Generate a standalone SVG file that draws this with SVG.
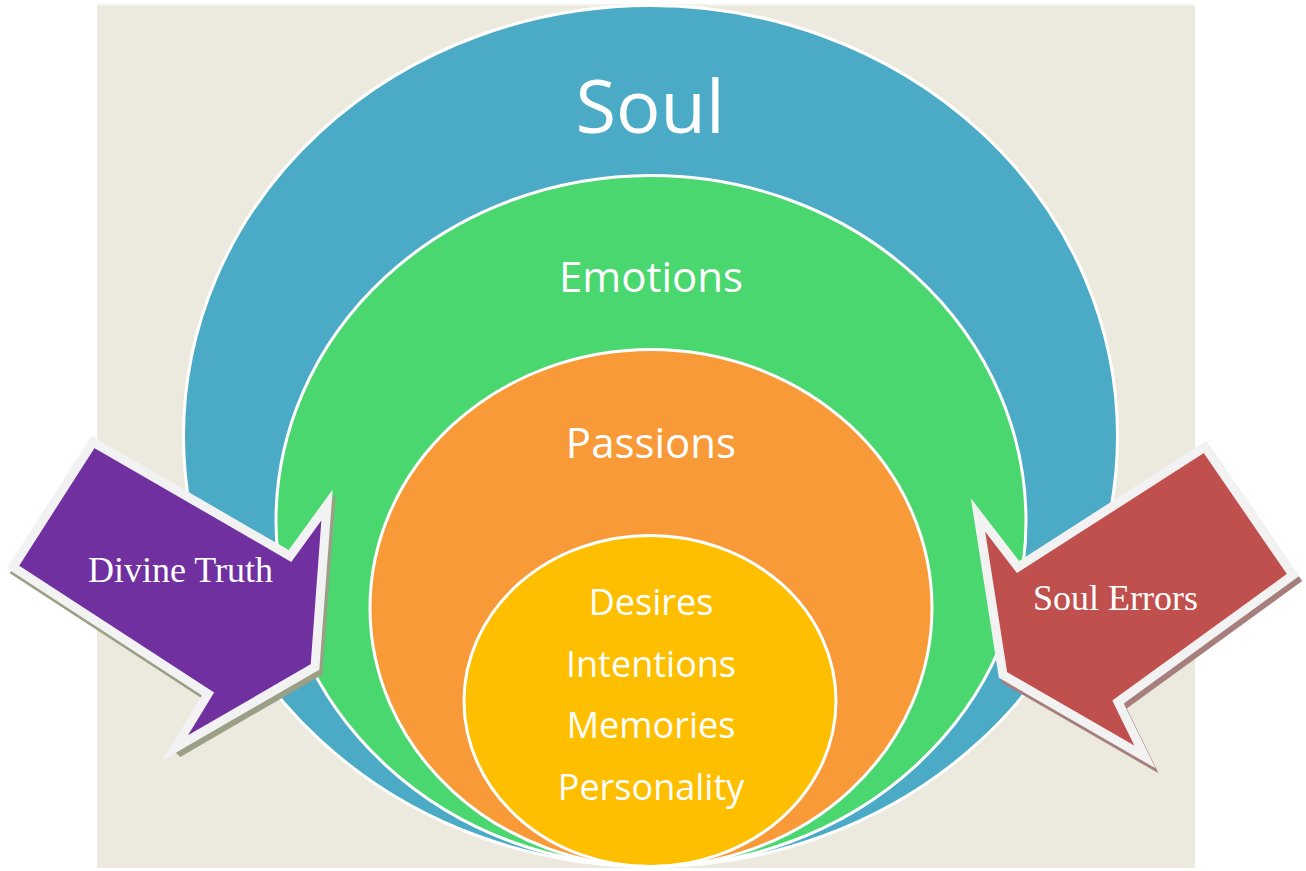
<svg xmlns="http://www.w3.org/2000/svg" width="1306" height="871" viewBox="0 0 1306 871">
<style>
.ring{stroke:#ffffff;stroke-width:3}
.lbl{font-family:"Open Sans","DejaVu Sans",sans-serif;fill:#ffffff;text-anchor:middle}
.alab{font-family:"Liberation Serif","Times New Roman",serif;fill:#ffffff;font-size:36px}
.arr{stroke:#F2F2F2;stroke-width:9;stroke-linejoin:miter;stroke-miterlimit:10}
</style>
<rect x="0" y="0" width="1306" height="871" fill="#ffffff"/>
<rect x="97" y="4" width="1098" height="864" fill="#ECE9DF"/>
<rect x="97" y="4" width="1098" height="2" fill="#F4F2EA"/>
<g id="soul">
<ellipse class="ring" cx="650.5" cy="436" rx="467" ry="430.5" fill="#4BABC6"/>
<text class="lbl" x="650" y="133" font-size="74">Soul</text>
</g>
<g id="emotions">
<ellipse class="ring" cx="651" cy="521" rx="375" ry="345.5" fill="#4AD770"/>
<text class="lbl" x="651" y="292" font-size="42">Emotions</text>
</g>
<g id="passions">
<ellipse class="ring" cx="651" cy="608" rx="281" ry="258.5" fill="#F99A38"/>
<text class="lbl" x="651" y="458" font-size="42">Passions</text>
</g>
<g id="core">
<ellipse class="ring" cx="650" cy="701" rx="186" ry="165.5" fill="#FDBF00"/>
<text class="lbl" x="651" y="615" font-size="36">Desires</text>
<text class="lbl" x="651" y="677" font-size="36">Intentions</text>
<text class="lbl" x="651" y="738" font-size="36">Memories</text>
<text class="lbl" x="651" y="800" font-size="36">Personality</text>
</g>
<g id="connectors">
<g id="divine-truth">
<polygon points="93,442 290,556 327,505 315,667 175,748 208,694 13,567" transform="translate(3,5)" fill="#9A9F86" stroke="#9A9F86" stroke-width="9" stroke-linejoin="miter"/>
<polygon class="arr" points="93,442 290,556 327,505 315,667 175,748 208,694 13,567" fill="#7030A0"/>
<text class="alab" x="88" y="582">Divine Truth</text>
</g>
<g id="soul-errors">
<polygon points="1205,447 1293,575 1118,702 1145,757 1003,675 978,515 1018,567" transform="translate(3,5)" fill="#A67F7D" stroke="#A67F7D" stroke-width="9" stroke-linejoin="miter"/>
<polygon class="arr" points="1205,447 1293,575 1118,702 1145,757 1003,675 978,515 1018,567" fill="#C0504D"/>
<text class="alab" x="1033" y="610">Soul Errors</text>
</g>
</g>
</svg>
